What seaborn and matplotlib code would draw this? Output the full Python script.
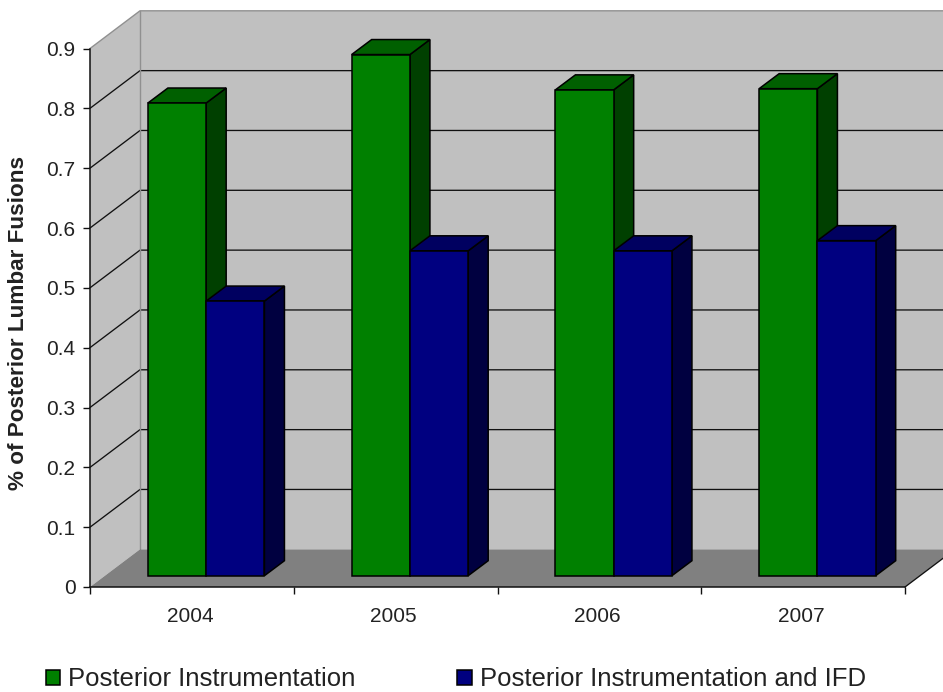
import matplotlib
matplotlib.use("Agg")
import matplotlib.pyplot as plt
from matplotlib.patches import Polygon
from matplotlib.transforms import Affine2D, ScaledTranslation
import pandas as pd
import seaborn as sns

years = ["2004", "2005", "2006", "2007"]
instrumentation = [0.79, 0.871, 0.812, 0.814]
instrumentation_ifd = [0.459, 0.543, 0.543, 0.56]
series_names = ["Posterior Instrumentation", "Posterior Instrumentation and IFD"]
y_ticks = [0, 0.1, 0.2, 0.3, 0.4, 0.5, 0.6, 0.7, 0.8, 0.9]
y_tick_labels = ["0", "0.1", "0.2", "0.3", "0.4", "0.5", "0.6", "0.7", "0.8", "0.9"]
y_title = "% of Posterior Lumbar Fusions"

front_colors = ["#008000", "#000080"]
top_colors = ["#006000", "#000060"]
side_colors = ["#004000", "#000040"]
WALL = "#C0C0C0"
FLOOR = "#808080"

W, H = 943, 692
sns.set_theme(style="white")
plt.rcParams["font.family"] = ["Liberation Sans", "DejaVu Sans"]

fig = plt.figure(figsize=(W / 100, H / 100), dpi=100, facecolor="white")
ax = fig.add_axes([90 / W, (H - 587) / H, 815 / W, 538.5 / H])
ax.patch.set_visible(False)

frame = pd.DataFrame({
    "year": years * 2,
    "share": instrumentation + instrumentation_ifd,
    "series": [series_names[0]] * 4 + [series_names[1]] * 4,
})
sns.barplot(
    data=frame, x="year", y="share", hue="series", hue_order=series_names,
    palette=front_colors, width=0.572, gap=0, saturation=1, errorbar=None,
    edgecolor="black", linewidth=1.1, ax=ax, zorder=6,
)

ax.set_xlim(-0.5, 3.5)
ax.set_ylim(0, 0.9)
x_per_px = 4 / 815
y_per_px = 0.9 / 538.5

# Depth of the chart box and of the bars, expressed in data units.
box_dx, box_dy = 50 * x_per_px, 37.7 * y_per_px
bar_dx, bar_dy = 20 * x_per_px, 15 * y_per_px
shift_x, shift_y = 14.3 * x_per_px, 11.3 * y_per_px

x0, x1 = -0.5, 3.5
wall_kw = dict(clip_on=False, linewidth=0)
ax.add_patch(Polygon([(x0 + box_dx, box_dy), (x1 + box_dx, box_dy),
                      (x1 + box_dx, 0.9 + box_dy), (x0 + box_dx, 0.9 + box_dy)],
                     facecolor=WALL, zorder=1, **wall_kw))
ax.add_patch(Polygon([(x0, 0), (x0 + box_dx, box_dy),
                      (x0 + box_dx, 0.9 + box_dy), (x0, 0.9)],
                     facecolor=WALL, zorder=1, **wall_kw))

# Gridlines run along the side wall and across the back wall.
for tick in y_ticks[1:-1]:
    ax.plot([x0, x0 + box_dx, x1 + box_dx], [tick, tick + box_dy, tick + box_dy],
            color="#111111", lw=0.95, clip_on=False, zorder=2)
ax.plot([x0, x0 + box_dx, x1 + box_dx], [0.9, 0.9 + box_dy, 0.9 + box_dy],
        color="#909090", lw=1.0, clip_on=False, zorder=2)
ax.plot([x0 + box_dx, x0 + box_dx], [box_dy, 0.9 + box_dy],
        color="#909090", lw=1.0, clip_on=False, zorder=2)

ax.add_patch(Polygon([(x0, 0), (x0 + box_dx, box_dy), (x1 + box_dx, box_dy), (x1, 0)],
                     facecolor=FLOOR, zorder=3, **wall_kw))
ax.plot([x1, x1 + box_dx], [0, box_dy], color="#111111", lw=0.95,
        clip_on=False, zorder=3)

# Give each bar its top and side faces, then slide it into the box.
slide = Affine2D().translate(shift_x, shift_y) + ax.transData
for s, container in enumerate(ax.containers):
    for bar in container:
        left = bar.get_x()
        right = left + bar.get_width()
        value = bar.get_height()
        side = Polygon([(right, 0), (right + bar_dx, bar_dy),
                        (right + bar_dx, value + bar_dy), (right, value)],
                       facecolor=side_colors[s], edgecolor="black", lw=1.1,
                       joinstyle="miter", clip_on=False, zorder=4 + s * 0.1,
                       transform=slide)
        top = Polygon([(left, value), (left + bar_dx, value + bar_dy),
                       (right + bar_dx, value + bar_dy), (right, value)],
                      facecolor=top_colors[s], edgecolor="black", lw=1.1,
                      joinstyle="miter", clip_on=False, zorder=4 + s * 0.1,
                      transform=slide)
        ax.add_patch(side)
        ax.add_patch(top)
        bar.set_transform(slide)
        bar.set_clip_on(False)

for name in ("top", "right"):
    ax.spines[name].set_visible(False)
for name in ("left", "bottom"):
    ax.spines[name].set_color("#111111")
    ax.spines[name].set_linewidth(1.1)
    ax.spines[name].set_zorder(7)

ax.set_yticks(y_ticks, y_tick_labels)
ax.tick_params(axis="y", left=True, length=5, width=1.0, color="#111111",
               labelsize=15, labelcolor="#222222", pad=5.5)
ax.set_xticks(range(4), years)
ax.set_xticks([-0.5, 0.5, 1.5, 2.5, 3.5], minor=True)
ax.tick_params(axis="x", which="major", bottom=False, labelsize=15,
               labelcolor="#222222", pad=8.4)
ax.tick_params(axis="x", which="minor", bottom=True, length=5, width=1.0,
               color="#111111")
nudge = ScaledTranslation(-2 / 100, 0, fig.dpi_scale_trans)
for label in ax.get_xticklabels():
    label.set_transform(label.get_transform() + nudge)
ax.set_xlabel("")
ax.set_ylabel("")
fig.text(19 / W, 1 - 323 / H, y_title, rotation=90, ha="center", va="center",
         fontsize=16.2, fontweight="bold", color="#222222")

handles, labels = ax.get_legend_handles_labels()
ax.legend(handles, labels, ncol=2, loc="lower left",
          bbox_to_anchor=(46 / W, 1 - 691.5 / H), bbox_transform=fig.transFigure,
          frameon=False, fontsize=18.5, labelcolor="#222222", borderpad=0,
          borderaxespad=0, handlelength=0.55, handleheight=0.55,
          handletextpad=0.31, columnspacing=3.97)

fig.savefig("out.png", dpi=100, facecolor="white")
